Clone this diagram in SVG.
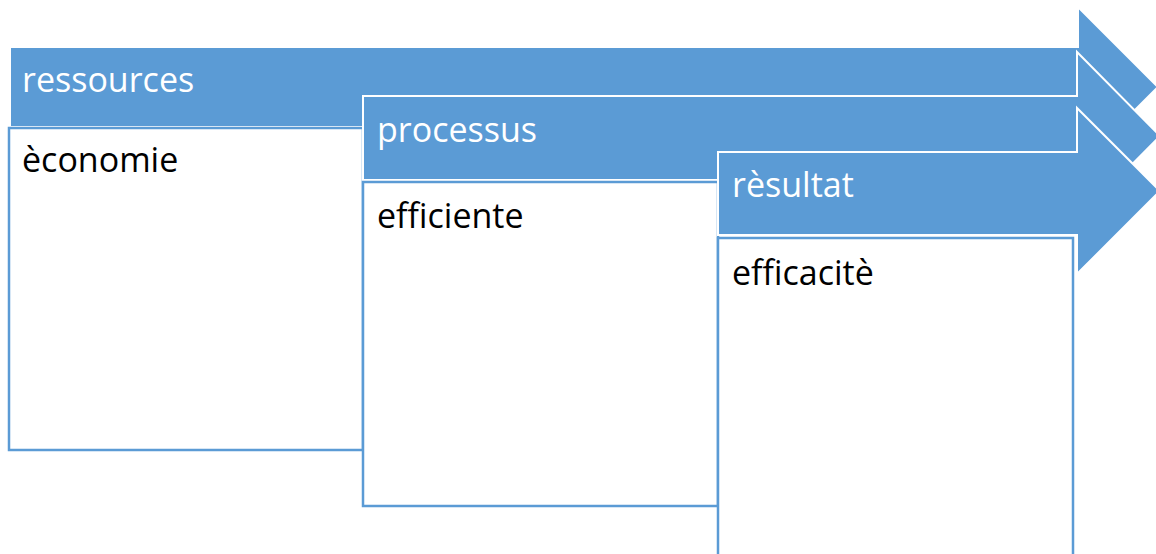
<svg xmlns="http://www.w3.org/2000/svg" width="1156" height="554" viewBox="0 0 1156 554">
  <style>
    .band { fill: #5B9BD5; stroke: #FFFFFF; stroke-width: 2; stroke-linejoin: miter; }
    .card { fill: #FFFFFF; stroke: #5B9BD5; stroke-width: 2.5; }
    .head { font-family: "Open Sans", "Liberation Sans", sans-serif; font-size: 34px; fill: #FFFFFF; }
    .body { font-family: "Open Sans", "Liberation Sans", sans-serif; font-size: 34px; fill: #000000; }
  </style>
  <rect width="1156" height="554" fill="#FFFFFF"/>

  <!-- stage 1: resources -->
  <g id="stage-ressources">
    <polygon class="band" points="10,47 1078,47 1078,7 1158,87 1078,167 1078,127 10,127"/>
    <rect class="card" x="9" y="128" width="354" height="322"/>
    <text class="head" x="22" y="92">ressources</text>
    <text class="body" x="22" y="172">èconomie</text>
  </g>

  <!-- stage 2: process -->
  <g id="stage-processus">
    <polygon class="band" points="363,96 1077,96 1077,52 1160,136 1077,220 1077,180 363,180"/>
    <rect class="card" x="363" y="182" width="355" height="324"/>
    <text class="head" x="377" y="142">processus</text>
    <text class="body" x="377" y="228">efficiente</text>
  </g>

  <!-- stage 3: result -->
  <g id="stage-resultat">
    <polygon class="band" points="718,152 1077,152 1077,108 1160,191 1077,274 1077,235 718,235"/>
    <rect class="card" x="718" y="238" width="355" height="330"/>
    <text class="head" x="732" y="197">rèsultat</text>
    <text class="body" x="732" y="285">efficacitè</text>
  </g>

  <!-- connectors: none, the stages are chained by their arrow bands -->
  <g id="connectors"/>
</svg>
